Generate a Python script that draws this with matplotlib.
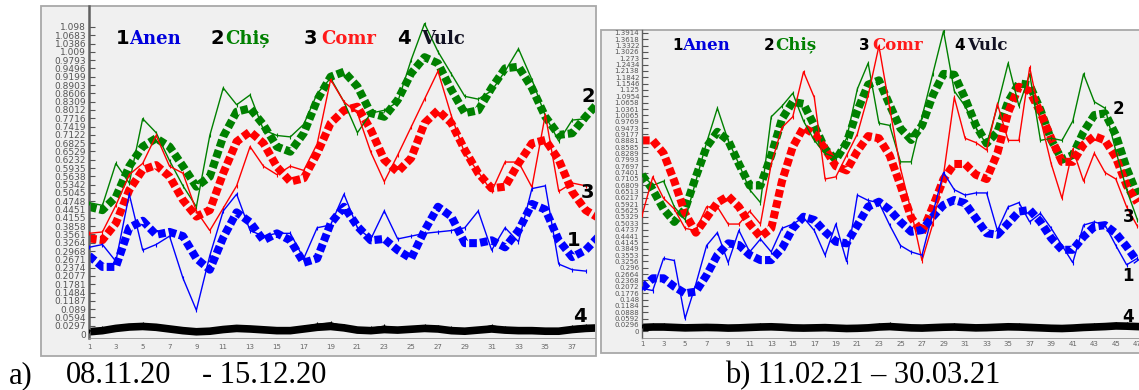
import matplotlib
matplotlib.use("Agg")
import matplotlib.pyplot as plt
from matplotlib.patches import Rectangle

W, H = 1139, 390
BG = "#f0f0f0"
FRAME = "#a8a8a8"
COLORS = {"anen": "#0000ff", "chis": "#008000", "comr": "#ff0000", "vulc": "#000000"}

# ---- panel a: 08.11.20 - 15.12.20 -------------------------------------
days_a = list(range(1, 39))
days_a_fit = list(range(1, 40))

anen_a = [0.31, 0.32, 0.26, 0.50, 0.30, 0.32, 0.35, 0.20, 0.085, 0.28, 0.44, 0.50, 0.37,
          0.35, 0.36, 0.36, 0.27, 0.38, 0.39, 0.50, 0.38, 0.34, 0.44, 0.34, 0.35, 0.36,
          0.365, 0.37, 0.38, 0.44, 0.30, 0.38, 0.33, 0.52, 0.53, 0.25, 0.23, 0.225]
chis_a = [0.47, 0.46, 0.61, 0.54, 0.77, 0.72, 0.62, 0.53, 0.455, 0.71, 0.88, 0.82, 0.855,
          0.73, 0.71, 0.705, 0.75, 0.86, 0.915, 0.83, 0.72, 0.79, 0.80, 0.83, 0.98, 1.11,
          1.01, 0.93, 0.85, 0.84, 0.87, 0.94, 1.02, 0.91, 0.78, 0.69, 0.765, 0.77]
comr_a = [0.36, 0.365, 0.46, 0.57, 0.61, 0.71, 0.60, 0.575, 0.44, 0.37, 0.45, 0.53, 0.67,
          0.60, 0.57, 0.60, 0.585, 0.68, 0.91, 0.83, 0.79, 0.65, 0.545, 0.64, 0.74, 0.84,
          0.94, 0.78, 0.645, 0.58, 0.51, 0.615, 0.615, 0.525, 0.785, 0.51, 0.54, 0.53]
vulc_a = [0.01, 0.02, 0.022, 0.03, 0.035, 0.03, 0.02, 0.01, 0.012, 0.015, 0.022, 0.025,
          0.02, 0.018, 0.01, 0.015, 0.025, 0.035, 0.04, 0.028, 0.015, 0.02, 0.028, 0.018,
          0.022, 0.028, 0.025, 0.02, 0.012, 0.018, 0.03, 0.02, 0.015, 0.015, 0.012, 0.01,
          0.025, 0.03]

anen_a_fit = [0.28, 0.24, 0.24, 0.38, 0.405, 0.355, 0.365, 0.35, 0.27, 0.23, 0.345, 0.435,
              0.40, 0.335, 0.36, 0.335, 0.255, 0.27, 0.395, 0.455, 0.385, 0.335, 0.34, 0.30,
              0.27, 0.37, 0.455, 0.42, 0.325, 0.325, 0.335, 0.31, 0.37, 0.465, 0.445, 0.335,
              0.275, 0.30, 0.35]
chis_a_fit = [0.455, 0.443, 0.49, 0.60, 0.67, 0.70, 0.67, 0.60, 0.527, 0.563, 0.706, 0.795,
              0.807, 0.748, 0.67, 0.652, 0.718, 0.837, 0.92, 0.938, 0.885, 0.79, 0.777, 0.837,
              0.932, 0.99, 0.968, 0.873, 0.79, 0.80, 0.88, 0.95, 0.956, 0.88, 0.777, 0.712,
              0.718, 0.777, 0.83]
comr_a_fit = [0.342, 0.336, 0.396, 0.515, 0.587, 0.604, 0.563, 0.479, 0.42, 0.443, 0.575,
              0.688, 0.724, 0.682, 0.598, 0.545, 0.557, 0.646, 0.754, 0.80, 0.813, 0.73,
              0.623, 0.58, 0.629, 0.754, 0.80, 0.754, 0.658, 0.575, 0.521, 0.527, 0.61,
              0.682, 0.694, 0.623, 0.509, 0.443, 0.414]
vulc_a_fit = [0.008, 0.012, 0.02, 0.025, 0.027, 0.024, 0.018, 0.012, 0.008, 0.01, 0.016,
              0.02, 0.018, 0.015, 0.012, 0.012, 0.018, 0.024, 0.027, 0.022, 0.014, 0.012,
              0.016, 0.014, 0.017, 0.02, 0.018, 0.012, 0.01, 0.014, 0.018, 0.014, 0.012,
              0.012, 0.01, 0.01, 0.016, 0.02, 0.022]

yticks_a = ["0", "0.0297", "0.0594", "0.089", "0.1187", "0.1484", "0.1781", "0.2077",
            "0.2374", "0.2671", "0.2968", "0.3264", "0.3561", "0.3858", "0.4155", "0.4451",
            "0.4748", "0.5045", "0.5342", "0.5638", "0.5935", "0.6232", "0.6529", "0.6825",
            "0.7122", "0.7419", "0.7716", "0.8012", "0.8309", "0.8606", "0.8903", "0.9199",
            "0.9496", "0.9793", "1.009", "1.0386", "1.0683", "1.098"]

# ---- panel b: 11.02.21 - 30.03.21 -------------------------------------
days_b = list(range(1, 48))

anen_b = [0.20, 0.19, 0.34, 0.33, 0.06, 0.22, 0.40, 0.46, 0.32, 0.47, 0.37, 0.43, 0.37,
          0.48, 0.50, 0.53, 0.47, 0.355, 0.50, 0.325, 0.635, 0.61, 0.60, 0.495, 0.40, 0.37,
          0.355, 0.55, 0.74, 0.66, 0.635, 0.645, 0.645, 0.47, 0.58, 0.60, 0.51, 0.55, 0.48,
          0.40, 0.32, 0.495, 0.51, 0.495, 0.40, 0.31, 0.34]
chis_b = [0.73, 0.68, 0.70, 0.58, 0.52, 0.70, 0.88, 1.04, 0.89, 0.78, 0.66, 0.60, 1.00,
          1.05, 1.11, 0.98, 0.89, 0.83, 0.81, 0.90, 1.13, 1.25, 0.97, 0.96, 0.79, 0.79,
          1.00, 1.20, 1.40, 1.12, 1.05, 0.95, 0.87, 1.05, 1.25, 1.05, 1.20, 0.89, 0.90,
          0.89, 0.98, 1.20, 1.07, 1.04, 0.84, 0.66, 0.52]
comr_b = [0.54, 0.72, 0.62, 0.57, 0.48, 0.47, 0.58, 0.58, 0.50, 0.50, 0.56, 0.50, 0.78,
          0.95, 1.00, 1.21, 1.09, 0.71, 0.72, 0.82, 0.92, 1.10, 1.33, 1.04, 0.76, 0.56,
          0.33, 0.50, 0.73, 1.09, 0.90, 0.88, 0.845, 1.06, 0.89, 0.89, 1.23, 0.99, 0.78,
          0.62, 0.85, 0.70, 0.83, 0.74, 0.71, 0.58, 0.49]
vulc_b = [0.025, 0.03, 0.028, 0.022, 0.02, 0.024, 0.026, 0.02, 0.018, 0.022, 0.025, 0.028,
          0.03, 0.026, 0.02, 0.018, 0.022, 0.024, 0.02, 0.016, 0.018, 0.022, 0.028, 0.032,
          0.026, 0.02, 0.018, 0.022, 0.026, 0.028, 0.024, 0.02, 0.022, 0.026, 0.03, 0.028,
          0.024, 0.02, 0.018, 0.016, 0.02, 0.024, 0.028, 0.03, 0.036, 0.032, 0.03]

anen_b_fit = [0.20, 0.247, 0.247, 0.208, 0.177, 0.185, 0.262, 0.356, 0.41, 0.402, 0.356,
              0.332, 0.332, 0.387, 0.48, 0.534, 0.519, 0.464, 0.418, 0.41, 0.495, 0.581,
              0.604, 0.566, 0.51, 0.464, 0.472, 0.534, 0.589, 0.612, 0.597, 0.527, 0.457,
              0.45, 0.503, 0.558, 0.566, 0.51, 0.434, 0.38, 0.38, 0.441, 0.488, 0.495,
              0.457, 0.395, 0.325]
chis_b_fit = [0.73, 0.66, 0.57, 0.51, 0.57, 0.72, 0.86, 0.93, 0.89, 0.78, 0.68, 0.68, 0.82,
              0.99, 1.07, 1.06, 0.96, 0.85, 0.80, 0.88, 1.03, 1.15, 1.17, 1.055, 0.946,
              0.892, 0.96, 1.10, 1.20, 1.196, 1.086, 0.96, 0.876, 0.93, 1.07, 1.156, 1.148,
              1.032, 0.892, 0.80, 0.822, 0.93, 1.008, 1.016, 0.915, 0.76, 0.635]
comr_b_fit = [0.89, 0.89, 0.83, 0.70, 0.55, 0.46, 0.53, 0.60, 0.63, 0.58, 0.50, 0.44, 0.48,
              0.70, 0.86, 0.95, 0.92, 0.85, 0.77, 0.75, 0.84, 0.91, 0.90, 0.82, 0.68, 0.53,
              0.46, 0.58, 0.71, 0.78, 0.78, 0.73, 0.71, 0.83, 1.02, 1.14, 1.12, 1.02, 0.90,
              0.79, 0.79, 0.87, 0.91, 0.89, 0.81, 0.68, 0.60]
vulc_b_fit = [0.018, 0.02, 0.02, 0.018, 0.016, 0.017, 0.018, 0.017, 0.015, 0.016, 0.018,
              0.02, 0.021, 0.019, 0.016, 0.015, 0.016, 0.017, 0.015, 0.013, 0.014, 0.016,
              0.02, 0.022, 0.019, 0.016, 0.015, 0.017, 0.019, 0.02, 0.018, 0.016, 0.017,
              0.019, 0.021, 0.02, 0.018, 0.016, 0.014, 0.013, 0.015, 0.018, 0.02, 0.022,
              0.025, 0.024, 0.022]

yticks_b = ["0", "0.0296", "0.0592", "0.0888", "0.1184", "0.148", "0.1776", "0.2072",
            "0.2368", "0.2664", "0.296", "0.3256", "0.3553", "0.3849", "0.4145", "0.4441",
            "0.4737", "0.5033", "0.5329", "0.5625", "0.5921", "0.6217", "0.6513", "0.6809",
            "0.7105", "0.7401", "0.7697", "0.7993", "0.8289", "0.8585", "0.8881", "0.9177",
            "0.9473", "0.9769", "1.0065", "1.0361", "1.0658", "1.0954", "1.125", "1.1546",
            "1.1842", "1.2138", "1.2434", "1.273", "1.3026", "1.3322", "1.3618", "1.3914"]

LEGEND = [("1", "Anen", "#0000dd"), ("2", "Chiș", "#008000"),
          ("3", "Comr", "#ff1a1a"), ("4", "Vulc", "#111122")]


def px(x, y):
    """Pixel position (top-left origin) -> figure fraction."""
    return x / W, 1 - y / H


def add_frame(fig, x0, y0, x1, y1):
    fig.add_artist(Rectangle(px(x0, y1), (x1 - x0) / W, (y1 - y0) / H,
                             transform=fig.transFigure, facecolor=BG,
                             edgecolor=FRAME, lw=1.3, zorder=0))


def draw_panel(ax, days, days_fit, raw, fit, ylabels, xlim, ylim, ysize, spine_lw):
    ax.set_facecolor("none")
    # thick fitted curves first, made of square "dots"
    for key in ("chis", "comr", "anen"):
        ax.plot(days_fit, fit[key], color=COLORS[key], lw=5.8, dashes=(0.95, 0.4),
                dash_capstyle="butt", zorder=2)
    ax.plot(days_fit, fit["vulc"], color="black", lw=5.5, zorder=2)
    # thin measured series on top
    for key in ("chis", "comr", "anen", "vulc"):
        ax.plot(days, raw[key], color=COLORS[key], lw=1.0, marker="|", ms=3.5,
                mew=0.8, zorder=3)

    step = float(ylabels[-1]) / (len(ylabels) - 1)
    ax.set_yticks([k * step for k in range(len(ylabels))], ylabels)
    ax.set_xticks(days[::2], [str(d) for d in days[::2]])
    ax.set_xlim(*xlim)
    ax.set_ylim(*ylim)
    ax.tick_params(axis="y", direction="in", length=4, width=0.8, pad=2,
                   labelsize=ysize, colors="#555555")
    ax.tick_params(axis="x", length=0, pad=4, labelsize=5, colors="#666666")
    for side in ("top", "right"):
        ax.spines[side].set_visible(False)
    ax.spines["left"].set_color("#606060")
    ax.spines["left"].set_linewidth(spine_lw)
    ax.spines["bottom"].set_color("#909090")
    ax.spines["bottom"].set_linewidth(0.6)


def add_legend(fig, positions, y, digit_size, name_size):
    for (digit, name, color), (xd, xn) in zip(LEGEND, positions):
        fig.text(*px(xd, y), digit, fontsize=digit_size, fontweight="bold",
                 family="DejaVu Sans", va="center", ha="left")
        fig.text(*px(xn, y), name, fontsize=name_size, fontweight="bold",
                 family="DejaVu Serif", color=color, va="center", ha="left")


fig = plt.figure(figsize=(W / 100, H / 100), dpi=100)
fig.patch.set_facecolor("white")

add_frame(fig, 41, 6, 596, 356)
add_frame(fig, 601, 30, 1141, 353)

# panel a: 0 at y=334 px, 279.6 px per unit; panel b: 0 at y=331.3 px, 214.5 px per unit
ax_a = fig.add_axes([89 / W, 1 - 338 / H, (595 - 89) / W, (338 - 6) / H])
draw_panel(ax_a, days_a, days_a_fit,
           {"anen": anen_a, "chis": chis_a, "comr": comr_a, "vulc": vulc_a},
           {"anen": anen_a_fit, "chis": chis_a_fit, "comr": comr_a_fit, "vulc": vulc_a_fit},
           yticks_a, (1, 38.7), (-4 / 279.6, 328 / 279.6), 6.5, 1.8)

ax_b = fig.add_axes([642 / W, 1 - 338 / H, (1139 - 642) / W, (338 - 30) / H])
draw_panel(ax_b, days_b, days_b,
           {"anen": anen_b, "chis": chis_b, "comr": comr_b, "vulc": vulc_b},
           {"anen": anen_b_fit, "chis": chis_b_fit, "comr": comr_b_fit, "vulc": vulc_b_fit},
           yticks_b, (1, 47.15), (-6.7 / 214.5, 301.3 / 214.5), 5.0, 1.0)
ax_b.tick_params(axis="x", pad=2)

add_legend(fig, [(116, 129), (211, 225), (304, 321), (397, 421)], 39, 14, 13)
add_legend(fig, [(672, 682), (764, 775), (859, 872), (954, 967)], 45, 11, 12)

# series numbers at the right end of the curves
for text, x, y, size in [("2", 581, 96, 14), ("3", 581, 193, 14), ("1", 567, 240, 14),
                         ("4", 573, 317, 14), ("2", 1113, 109, 12), ("3", 1123, 217, 12),
                         ("1", 1122, 276, 12), ("4", 1122, 317, 12)]:
    fig.text(*px(x, y), text, fontsize=size, fontweight="bold", family="DejaVu Sans",
             va="center", ha="left")

# captions
cap = dict(fontsize=22, family="Liberation Serif", va="baseline", ha="left")
fig.text(*px(9, 383), "a)", **cap)
fig.text(*px(66, 383), "08.11.20", **cap)
fig.text(*px(202, 383), "- 15.12.20", **cap)
fig.text(*px(725, 383), "b) 11.02.21 \u2013 30.03.21", **cap)

fig.savefig("out.png", dpi=100)
